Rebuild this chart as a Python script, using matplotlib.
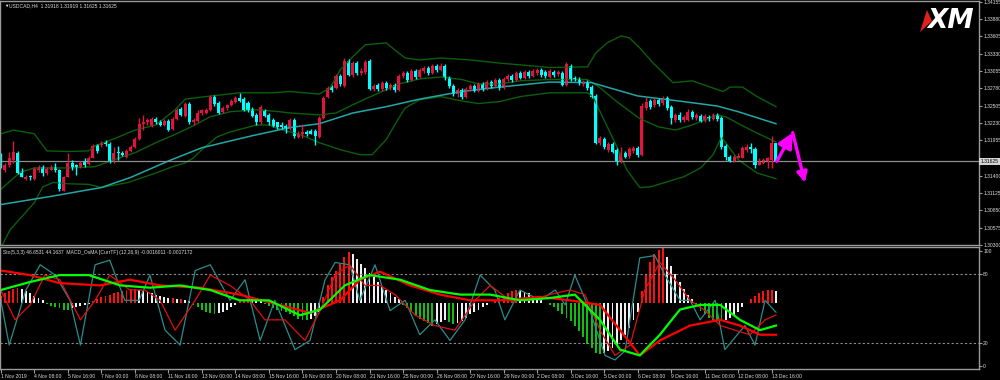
import matplotlib
matplotlib.use("Agg")
import matplotlib.pyplot as plt
from matplotlib import font_manager as fm
import numpy as np
from matplotlib.patches import Polygon

_names = {f.name for f in fm.fontManager.ttflist}
if "Liberation Sans Narrow" in _names:
    FONT = ["Liberation Sans Narrow", "DejaVu Sans"]; FS = 4.3
elif "Liberation Sans" in _names:
    FONT = ["Liberation Sans", "DejaVu Sans"]; FS = 3.6
else:
    FONT = ["DejaVu Sans"]; FS = 3.3
plt.rcParams["font.family"] = FONT

# ---------------- data ----------------
time_labels = ["1 Nov 2019", "4 Nov 08:00", "5 Nov 16:00", "7 Nov 00:00", "8 Nov 08:00",
               "11 Nov 16:00", "13 Nov 00:00", "14 Nov 08:00", "15 Nov 16:00", "19 Nov 00:00",
               "20 Nov 08:00", "21 Nov 16:00", "25 Nov 00:00", "26 Nov 08:00", "27 Nov 16:00",
               "29 Nov 00:00", "2 Dec 08:00", "3 Dec 16:00", "5 Dec 00:00", "6 Dec 08:00",
               "9 Dec 16:00", "11 Dec 00:00", "12 Dec 08:00", "13 Dec 16:00"]
time_label_bars = [0, 8, 16, 24, 32, 40, 48, 56, 64, 72, 80, 88, 96, 104, 112, 120,
                   128, 136, 144, 152, 160, 168, 176, 184]

price_ticks = [1.34155, 1.33880, 1.33605, 1.33330, 1.33055, 1.32780, 1.32505, 1.32230,
               1.31955, 1.31400, 1.31125, 1.30850, 1.30575, 1.30300]
last_price = 1.31625

opens = [
 1.3170,1.3149,1.3156,1.3165,1.3176,1.3144,1.3135,1.3140,1.3135,1.3148,
 1.3154,1.3144,1.3149,1.3154,1.3148,1.3116,1.3138,1.3160,1.3156,1.3154,
 1.3162,1.3159,1.3168,1.3189,1.3189,1.3193,1.3190,1.3162,1.3178,1.3176,
 1.3170,1.3179,1.3185,1.3198,1.3222,1.3224,1.3219,1.3230,1.3225,1.3220,
 1.3227,1.3214,1.3230,1.3246,1.3235,1.3254,1.3224,1.3227,1.3239,1.3239,
 1.3244,1.3265,1.3255,1.3241,1.3247,1.3252,1.3257,1.3263,1.3261,1.3255,
 1.3246,1.3236,1.3224,1.3242,1.3236,1.3228,1.3224,1.3220,1.3219,1.3214,
 1.3228,1.3201,1.3205,1.3209,1.3211,1.3211,1.3201,1.3231,1.3265,1.3280,
 1.3279,1.3298,1.3282,1.3322,1.3299,1.3318,1.3303,1.3304,1.3322,1.3277,
 1.3284,1.3277,1.3287,1.3279,1.3284,1.3276,1.3298,1.3303,1.3292,1.3306,
 1.3296,1.3306,1.3311,1.3303,1.3314,1.3307,1.3314,1.3295,1.3282,1.3269,
 1.3276,1.3265,1.3277,1.3282,1.3274,1.3285,1.3277,1.3288,1.3282,1.3292,
 1.3279,1.3293,1.3298,1.3292,1.3303,1.3295,1.3304,1.3298,1.3303,1.3307,
 1.3304,1.3296,1.3304,1.3301,1.3303,1.3284,1.3314,1.3295,1.3293,1.3285,
 1.3288,1.3280,1.3266,1.3192,1.3198,1.3181,1.3190,1.3181,1.3162,1.3176,
 1.3171,1.3179,1.3184,1.3173,1.3247,1.3258,1.3252,1.3260,1.3255,1.3263,
 1.3249,1.3228,1.3236,1.3228,1.3228,1.3241,1.3231,1.3235,1.3227,1.3233,
 1.3230,1.3236,1.3231,1.3187,1.3170,1.3163,1.3168,1.3168,1.3181,1.3185,
 1.3182,1.3157,1.3160,1.3162,1.3165,1.31918]
highs = [
 1.3175,1.3160,1.3178,1.3195,1.3179,1.3152,1.3141,1.3141,1.3154,1.3157,
 1.3157,1.3154,1.3156,1.3160,1.3151,1.3140,1.3176,1.3165,1.3159,1.3163,
 1.3167,1.3171,1.3190,1.3190,1.3195,1.3197,1.3193,1.3185,1.3187,1.3179,
 1.3182,1.3189,1.3201,1.3231,1.3236,1.3231,1.3233,1.3233,1.3228,1.3230,
 1.3230,1.3233,1.3247,1.3249,1.3257,1.3257,1.3231,1.3244,1.3246,1.3247,
 1.3268,1.3268,1.3258,1.3250,1.3254,1.3261,1.3266,1.3271,1.3265,1.3258,
 1.3249,1.3239,1.3252,1.3246,1.3239,1.3231,1.3225,1.3224,1.3222,1.3231,
 1.3231,1.3211,1.3222,1.3212,1.3214,1.3214,1.3235,1.3266,1.3282,1.3284,
 1.3301,1.3301,1.3326,1.3325,1.3322,1.3322,1.3311,1.3323,1.3325,1.3285,
 1.3287,1.3290,1.3290,1.3287,1.3287,1.3301,1.3306,1.3306,1.3309,1.3309,
 1.3311,1.3314,1.3314,1.3317,1.3317,1.3318,1.3317,1.3298,1.3285,1.3279,
 1.3279,1.3280,1.3285,1.3285,1.3288,1.3288,1.3292,1.3292,1.3295,1.3295,
 1.3296,1.3301,1.3301,1.3306,1.3306,1.3307,1.3307,1.3309,1.3311,1.3311,
 1.3307,1.3309,1.3307,1.3307,1.3306,1.3320,1.3317,1.3298,1.3296,1.3292,
 1.3292,1.3284,1.3269,1.3203,1.3201,1.3193,1.3193,1.3184,1.3185,1.3179,
 1.3185,1.3187,1.3187,1.3255,1.3265,1.3261,1.3263,1.3263,1.3266,1.3266,
 1.3252,1.3239,1.3241,1.3236,1.3246,1.3244,1.3239,1.3238,1.3238,1.3236,
 1.3239,1.3239,1.3235,1.3190,1.3173,1.3173,1.3175,1.3187,1.3190,1.3192,
 1.3185,1.3167,1.3168,1.3170,1.3203,1.31919]
lows = [
 1.3152,1.3146,1.3154,1.3160,1.3143,1.3137,1.3133,1.3133,1.3133,1.3146,
 1.3140,1.3141,1.3148,1.3146,1.3116,1.3115,1.3137,1.3149,1.3141,1.3152,
 1.3154,1.3156,1.3167,1.3176,1.3185,1.3187,1.3160,1.3160,1.3165,1.3171,
 1.3168,1.3178,1.3184,1.3197,1.3212,1.3220,1.3217,1.3222,1.3219,1.3219,
 1.3211,1.3212,1.3228,1.3235,1.3233,1.3222,1.3220,1.3225,1.3236,1.3238,
 1.3242,1.3250,1.3238,1.3239,1.3244,1.3250,1.3255,1.3257,1.3242,1.3241,
 1.3233,1.3220,1.3222,1.3233,1.3220,1.3217,1.3214,1.3214,1.3208,1.3212,
 1.3200,1.3200,1.3200,1.3203,1.3205,1.3189,1.3200,1.3230,1.3263,1.3273,
 1.3277,1.3282,1.3280,1.3298,1.3296,1.3299,1.3299,1.3301,1.3276,1.3274,
 1.3274,1.3274,1.3276,1.3276,1.3273,1.3274,1.3295,1.3288,1.3290,1.3293,
 1.3295,1.3303,1.3299,1.3301,1.3304,1.3306,1.3292,1.3279,1.3266,1.3265,
 1.3261,1.3263,1.3274,1.3273,1.3273,1.3274,1.3276,1.3279,1.3280,1.3276,
 1.3277,1.3290,1.3288,1.3290,1.3293,1.3293,1.3295,1.3296,1.3299,1.3296,
 1.3295,1.3295,1.3296,1.3298,1.3282,1.3282,1.3290,1.3290,1.3284,1.3282,
 1.3276,1.3263,1.3190,1.3189,1.3182,1.3178,1.3175,1.3157,1.3160,1.3167,
 1.3168,1.3176,1.3170,1.3171,1.3244,1.3246,1.3249,1.3250,1.3252,1.3244,
 1.3222,1.3225,1.3225,1.3225,1.3227,1.3230,1.3228,1.3224,1.3225,1.3227,
 1.3228,1.3227,1.3182,1.3165,1.3162,1.3162,1.3167,1.3167,1.3178,1.3176,
 1.3152,1.3156,1.3159,1.3152,1.3152,1.31625]
closes = [
 1.3156,1.3156,1.3167,1.3178,1.3144,1.3138,1.3138,1.3138,1.3151,1.3154,
 1.3144,1.3151,1.3154,1.3148,1.3118,1.3138,1.3160,1.3152,1.3152,1.3160,
 1.3157,1.3168,1.3187,1.3179,1.3192,1.3190,1.3162,1.3176,1.3175,1.3173,
 1.3179,1.3185,1.3198,1.3222,1.3224,1.3228,1.3230,1.3224,1.3220,1.3227,
 1.3212,1.3230,1.3244,1.3236,1.3254,1.3224,1.3228,1.3239,1.3244,1.3244,
 1.3265,1.3254,1.3239,1.3247,1.3252,1.3258,1.3263,1.3258,1.3244,1.3244,
 1.3235,1.3224,1.3249,1.3235,1.3224,1.3219,1.3217,1.3217,1.3214,1.3228,
 1.3203,1.3206,1.3209,1.3206,1.3206,1.3203,1.3231,1.3263,1.3279,1.3276,
 1.3298,1.3285,1.3322,1.3299,1.3318,1.3303,1.3306,1.3320,1.3277,1.3282,
 1.3277,1.3287,1.3279,1.3284,1.3276,1.3298,1.3303,1.3292,1.3306,1.3296,
 1.3307,1.3311,1.3303,1.3314,1.3307,1.3314,1.3295,1.3282,1.3269,1.3276,
 1.3265,1.3277,1.3282,1.3274,1.3285,1.3277,1.3288,1.3282,1.3292,1.3279,
 1.3293,1.3298,1.3292,1.3303,1.3295,1.3304,1.3298,1.3306,1.3307,1.3299,
 1.3298,1.3306,1.3299,1.3304,1.3284,1.3317,1.3292,1.3292,1.3287,1.3288,
 1.3279,1.3265,1.3192,1.3200,1.3185,1.3190,1.3178,1.3162,1.3176,1.3170,
 1.3182,1.3184,1.3173,1.3250,1.3257,1.3249,1.3260,1.3254,1.3263,1.3247,
 1.3231,1.3236,1.3228,1.3233,1.3241,1.3233,1.3236,1.3225,1.3235,1.3230,
 1.3236,1.3230,1.3185,1.3170,1.3163,1.3170,1.3171,1.3184,1.3185,1.3182,
 1.3157,1.3163,1.3165,1.3167,1.3192,1.31625]

# long moving average (cyan), read at vertices: (bar, price)
ma_bars   = [0, 12, 24, 31, 40, 48, 60, 69, 76, 84, 92, 100, 110, 119, 131, 141, 152, 163, 171, 176, 185]
ma_prices = [1.3094,1.3107,1.3121,1.3137,1.3163,1.3184,1.3203,1.3216,1.3222,1.3239,1.3249,
             1.3261,1.3273,1.3280,1.3288,1.3287,1.3266,1.3257,1.3250,1.3241,1.3222]

# Bollinger bands read at vertices
bb_up_bars = [0, 3, 8, 11, 16, 21, 22.5, 27, 32, 37, 41.6, 44, 49, 57, 65, 69, 76, 78.6, 81, 84, 87,
              92, 94, 96.5, 100, 105, 112, 119, 126, 131, 140, 142, 144.7, 148, 150, 152.5, 155.7,
              160.4, 165, 169.3, 172.4, 174, 177, 180.5, 185]
bb_up = [1.3206,1.3212,1.3206,1.3179,1.3178,1.3179,1.3187,1.3198,1.3212,1.3220,1.3244,1.3261,
         1.3265,1.3271,1.3271,1.3273,1.3269,1.3279,1.3307,1.3328,1.3347,1.3350,1.3339,1.3326,
         1.3323,1.3326,1.3323,1.3318,1.3314,1.3311,1.3312,1.3334,1.3350,1.3361,1.3358,1.3342,
         1.3318,1.3287,1.3290,1.3280,1.3273,1.3280,1.3280,1.3265,1.3249]
bb_mid_bars = [0, 4.6, 8, 16, 22.5, 27, 32, 37, 41.6, 46, 50, 54.7, 61, 66.6, 69, 76, 80, 84, 87.6,
               92, 95, 100, 105, 110, 114, 119, 124, 131, 140, 143, 147, 152.5, 157, 161, 165, 171,
               173, 179, 185]
bb_mid = [1.3118,1.3145,1.3152,1.3152,1.3154,1.3165,1.3176,1.3192,1.3205,1.3219,1.3233,1.3241,
          1.3244,1.3241,1.3239,1.3236,1.3239,1.3252,1.3263,1.3276,1.3285,1.3293,1.3296,1.3292,
          1.3285,1.3285,1.3290,1.3292,1.3292,1.3279,1.3257,1.3230,1.3217,1.3212,1.3220,1.3236,
          1.3233,1.3212,1.3193]
bb_lo_bars = [0, 2.2, 8, 10, 12.5, 16, 21, 24, 30.4, 37, 41, 44, 46, 48, 51.6, 54.7, 61, 64, 67.3,
              71.4, 76, 81, 85.7, 88.6, 92, 94, 96.5, 100, 105, 110, 114, 119, 124, 131, 140, 141.3,
              147, 149.4, 152.5, 155, 163, 167, 170, 172, 176, 180.5, 185]
bb_lo = [1.3025,1.3054,1.3097,1.3122,1.3129,1.3127,1.3126,1.3121,1.3129,1.3144,1.3154,1.3160,
         1.3168,1.3181,1.3201,1.3209,1.3220,1.3220,1.3212,1.3205,1.3192,1.3181,1.3173,1.3173,
         1.3197,1.3220,1.3247,1.3260,1.3265,1.3258,1.3254,1.3257,1.3265,1.3271,1.3271,1.3265,
         1.3186,1.3149,1.3121,1.3122,1.3138,1.3152,1.3173,1.3201,1.3165,1.3144,1.3135]

# MACD OsMA histogram (panel units above its zero line)
osma = [6,8,10,12,13,12,10,8,6,4,2,
        -1,-3,-4,-5,-6,-6,-5,-4,-3,-2,-1,1,
        3,5,6,7,8,9,10,11,12,12,11,
        10,9,8,7,6,5,4,4,3,3,2,1,
        -2,-4,-6,-8,-9,-10,-9,-8,-6,-4,
        -2,1,3,4,3,2,1,-1,-3,-5,-6,-7,-8,-10,-12,
        -14,-15,-15,-14,-12,-8,
        5,15,22,28,34,40,44,42,38,34,
        30,26,22,18,14,11,8,5,3,
        -2,-5,-8,-11,-14,-16,-18,-20,-19,-17,-15,-17,-19,-18,-16,-13,-10,-8,-6,-4,
        -2,0,2,4,6,8,10,11,10,9,8,6,4,2,0,-2,
        -4,-7,-10,-13,-16,-20,-25,-30,-36,-40,
        -44,-45,-44,-42,-40,-37,-33,-28,-22,-15,-8,
        10,25,35,42,46,48,
        40,32,25,18,12,7,3,
        -3,-7,-10,-13,-15,-16,-16,-15,-13,-11,-8,
        -4,0,3,6,8,10,11,11,10]
osma_zero = 55

# MACD / signal lines (panel units), read at vertices
macd_bars = [0, 7, 14, 21, 28.5, 35.6, 42.8, 50, 57, 64, 71.4, 76.2, 82.1, 88, 95.3, 102.4, 109.6,
             116.8, 123.9, 131, 137, 143, 147.8, 152.5, 157.3, 162.1, 166.9, 171.7, 176.4, 181.2, 185]
macd_vals = [66,73,79,79,70,68,70,66,57,57,44,49,70,79,75,66,62,62,57,59,62,40,14,9,27,49,53,53,40,31,35]
sig_bars = [0, 7, 14, 23.7, 30.8, 38, 47.5, 57, 66.6, 73.8, 81, 85.7, 90.5, 97.7, 104.8, 112, 119.1,
            128.7, 135.8, 143, 147.8, 152.5, 157.3, 164.5, 171.7, 176.4, 181.2, 185]
sig_vals = [83,79,72,70,75,70,68,62,53,46,57,75,82,70,62,57,57,60,57,53,31,9,22,35,40,35,27,27]

# Stochastic main / signal, read at vertices
sto_bars = [0, 2, 6, 9.4, 13, 16.5, 19, 22.5, 26, 29.6, 33, 35.6, 39.2, 42.8, 46.4, 50, 54.7, 58.3,
            61.9, 65.4, 70.2, 73.8, 77.4, 79.8, 83.3, 85.7, 89.3, 92.9, 96.5, 100, 103.6, 107.2,
            110.8, 114.4, 117.9, 120.3, 123.9, 128.7, 132.3, 134.7, 137, 140.6, 144.2, 146.6, 149,
            152.5, 156.1, 158.5, 162.1, 164.5, 166.9, 170.5, 172.8, 177.6, 180, 182.4, 185]
sto_main = [57,18,66,88,79,57,18,88,92,57,57,79,31,18,83,88,57,75,22,57,14,22,75,90,88,57,88,48,
            57,27,40,22,40,79,66,40,66,57,66,53,79,48,9,5,13,94,96,79,57,57,40,57,14,35,18,57,46.65]
stosig_bars = [0, 3.4, 7, 10.5, 14.1, 19, 22.5, 26, 30.8, 34.4, 38, 41.6, 46.4, 50, 54.7, 59.5, 63,
               67.8, 72.6, 76.2, 79.8, 83.3, 86.9, 90.5, 94.1, 98.9, 103.6, 108.4, 113.2, 116.8,
               121.5, 126.3, 131, 135.8, 139.4, 143, 146.6, 150.2, 153.7, 157.3, 160.9, 164.5,
               168.1, 171.7, 175.2, 178.8, 182.4, 185]
sto_sig = [66,40,53,79,75,40,57,79,66,66,57,31,57,79,70,57,40,40,22,48,79,88,70,70,62,44,35,31,
           57,70,57,57,62,66,62,31,9,18,66,90,75,57,48,35,31,27,40,44.16]

# ---------------- layout helpers ----------------
W, H = 1000, 380
fig = plt.figure(figsize=(W / 100, H / 100), dpi=100, facecolor="black")


def px_axes(x0, y0, x1, y1):
    return fig.add_axes([x0 / W, 1 - y1 / H, (x1 - x0) / W, (y1 - y0) / H])


BULL = "#e0143c"
BEAR = "#00ffff"
GRID = "#9a9a9a"
TXT = "#dcdcdc"
BB = "#0b5e0b"
MA = "#22a7a7"
XLIM = (-0.19, 233.46)

ax = px_axes(0, 1, 979, 245)
axi = px_axes(0, 247, 979, 368.5)
for a in (ax, axi):
    a.set_facecolor("black")
    for s in a.spines.values():
        s.set_color(GRID)
        s.set_linewidth(1.0)
    a.set_xlim(*XLIM)

# ---------------- main chart ----------------
idx = np.arange(len(closes))
o = np.array(opens); c = np.array(closes); hi = np.array(highs); lo = np.array(lows)
bull = c >= o
cols = np.where(bull, BULL, BEAR)

ax.plot(bb_up_bars, bb_up, color=BB, lw=1.0)
ax.plot(bb_mid_bars, bb_mid, color=BB, lw=1.0)
ax.plot(bb_lo_bars, bb_lo, color=BB, lw=1.0)
ax.plot(ma_bars, ma_prices, color=MA, lw=1.1)

ax.axhline(last_price, color="#8c8c8c", lw=0.9)

ax.vlines(idx, lo, hi, colors=cols, lw=1.0)
body_h = np.maximum(np.abs(c - o), 0.00005)
ax.bar(idx, body_h, bottom=np.minimum(o, c), width=0.72, color=cols, linewidth=0)

ax.set_ylim(1.30308, 1.34163)
ax.yaxis.tick_right()
ax.set_yticks(price_ticks)
ax.set_yticklabels([f"{p:.5f}" for p in price_ticks])
ax.tick_params(axis="y", colors=GRID, labelcolor=TXT, labelsize=FS, length=2, pad=1.0, width=0.8)
ax.set_xticks([])

ax.text(1.0015, last_price, f"{last_price:.5f}", transform=ax.get_yaxis_transform(),
        fontsize=FS, color="black", va="center", ha="left", family=FONT,
        bbox=dict(boxstyle="square,pad=0.25", facecolor="#d4d4d4", edgecolor="none"))

# magenta forecast arrows
last_i = len(closes) - 1
ax.annotate("", xy=(last_i + 4.0, 1.32078), xytext=(last_i + 0.2, last_price),
            arrowprops=dict(arrowstyle="-|>,head_length=0.9,head_width=0.45",
                            color="#ff00ff", lw=2.4, shrinkA=0, shrinkB=0))
ax.annotate("", xy=(last_i + 6.9, 1.31288), xytext=(last_i + 4.0, 1.32078),
            arrowprops=dict(arrowstyle="-|>,head_length=0.6,head_width=0.3",
                            color="#ff00ff", lw=2.4, shrinkA=0, shrinkB=0))

# ---------------- indicator window ----------------
axi.set_ylim(-2.44, 103.5)
for lvl in (80, 20):
    axi.axhline(lvl, color="#8c8c8c", lw=0.8, ls=(0, (2, 2)))

osma_a = np.array(osma, dtype=float)
prev = np.concatenate([[osma_a[0]], osma_a[:-1]])
hcols = []
for v, p in zip(osma_a, prev):
    if v >= 0:
        hcols.append("#ff1010" if v >= p else "#f0f0f0")
    else:
        hcols.append("#10c010" if v <= p else "#f0f0f0")
axi.bar(idx, osma_a, bottom=osma_zero, width=0.45, color=hcols, linewidth=0)

axi.plot(sto_bars, sto_main, color="#2a8c8c", lw=0.9)
axi.plot(stosig_bars, sto_sig, color="#e01010", lw=0.9)
axi.plot(sig_bars, sig_vals, color="#ff0000", lw=1.6)
axi.plot(macd_bars, macd_vals, color="#00ff00", lw=1.6)

axi.yaxis.tick_right()
axi.set_yticks([100, 80, 20, 0])
axi.set_yticklabels(["100", "80", "20", "0"])
axi.tick_params(axis="y", colors=GRID, labelcolor=TXT, labelsize=FS, length=2, pad=1.0, width=0.8)
axi.set_xticks(time_label_bars)
axi.set_xticklabels(time_labels)
axi.tick_params(axis="x", colors=GRID, labelcolor=TXT, labelsize=FS, length=3, pad=0.8, width=0.8)
for t in axi.get_xticklabels():
    t.set_horizontalalignment("left")

# ---------------- texts ----------------
fig.text(4 / W, 1 - 6 / H, "\u25bc", fontsize=3.2, color="white", va="center", ha="left",
         family=FONT)
fig.text(9 / W, 1 - 6 / H, "USDCAD,H4  1.31918 1.31919 1.31625 1.31625",
         fontsize=FS, color=TXT, va="center", ha="left", family=FONT)
fig.text(3 / W, 1 - 252.5 / H,
         "Sto(5,3,3) 46.6531 44.1637  MACD_OsMA [CurrTF] (12,26,9) -0.0016011 -0.0017172",
         fontsize=FS, color=TXT, va="center", ha="left", family=FONT)

# XM logo
tri = Polygon([[920 / W, 1 - 32 / H], [927 / W, 1 - 10 / H], [932 / W, 1 - 21 / H]],
              closed=True, transform=fig.transFigure, facecolor="#e0201e", edgecolor="none")
fig.patches.append(tri)
fig.text(927 / W, 1 - 21.5 / H, "XM", fontsize=19, fontweight="heavy", fontstyle="italic",
         color="white", va="center", ha="left", family=["DejaVu Sans"])

fig.savefig("out.png", dpi=100, facecolor="black")
